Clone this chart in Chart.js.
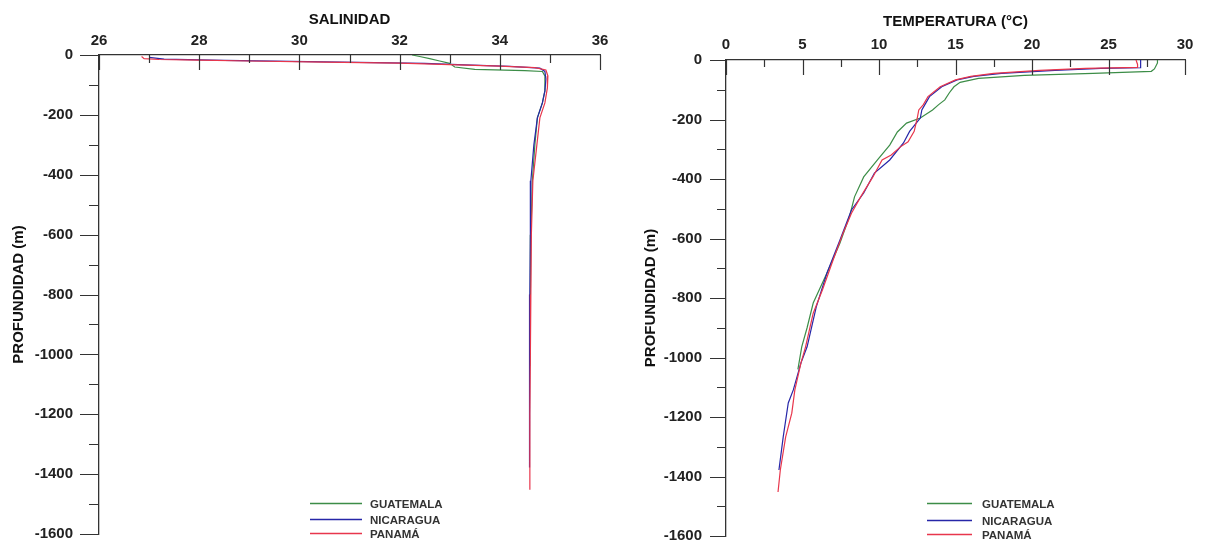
<!DOCTYPE html>
<html lang="es">
<head>
<meta charset="utf-8">
<title>Perfiles de salinidad y temperatura</title>
<script src="https://cdn.jsdelivr.net/npm/chart.js@4.4.1/dist/chart.umd.min.js"></script>
<style>
    html, body { margin: 0; padding: 0; background: #fff; }
    #wrap { position: relative; width: 1217px; height: 543px; overflow: hidden; }
    canvas { position: absolute; top: 0; }
    #salChart { left: 0; }
    #tempChart { left: 608px; }
</style>
</head>
<body>
<div id="wrap">
    <canvas id="salChart" width="608" height="543"></canvas>
    <canvas id="tempChart" width="609" height="543"></canvas>
</div>
<script>
// ============================
// Datos
// ============================
const countries = ['GUATEMALA', 'NICARAGUA', 'PANAMÁ'];
const lineColors = ['#3c8d47', '#2626a8', '#e8364c'];

// Salinidad
const salDepthGua = [0, -5, -12, -20, -28, -40, -48, -52, -55, -70, -120, -160, -210, -300, -420, -600, -800, -1040];
const salGua      = [32.25, 32.4, 32.6, 32.8, 33.0, 33.1, 33.5, 34.5, 34.85, 34.9, 34.9, 34.85, 34.75, 34.7, 34.65, 34.62, 34.61, 34.6];

const salDepthNic = [-8, -14, -18, -23, -28, -33, -38, -44, -55, -80, -120, -160, -210, -300, -420, -600, -800, -1000, -1200, -1378];
const salNic      = [27.0, 27.3, 28.5, 30.5, 32.5, 33.3, 34.2, 34.8, 34.9, 34.92, 34.9, 34.85, 34.75, 34.68, 34.62, 34.61, 34.6, 34.6, 34.59, 34.59];

const salDepthPan = [-5, -12, -15, -17, -20, -24, -27, -32, -37, -42, -50, -70, -110, -160, -210, -300, -420, -600, -800, -1000, -1200, -1452];
const salPan      = [26.85, 26.9, 27.2, 28.0, 29.0, 30.5, 32.0, 33.0, 34.0, 34.7, 34.92, 34.96, 34.95, 34.9, 34.8, 34.74, 34.66, 34.63, 34.62, 34.61, 34.6, 34.6];

// Temperatura
const tempDepthGua = [0, -10, -20, -30, -38, -45, -52, -62, -75, -90, -110, -134, -150, -168, -195, -212, -242, -286, -336, -393, -460, -521, -615, -716, -817, -900, -964, -1040];
const tempGua      = [28.2, 28.2, 28.1, 28.0, 27.8, 24.0, 19.5, 16.5, 15.3, 14.9, 14.6, 14.3, 13.9, 13.5, 12.7, 11.8, 11.2, 10.7, 9.9, 9.0, 8.4, 8.1, 7.45, 6.6, 5.7, 5.3, 4.95, 4.7];

const tempDepthNic = [0, -15, -26, -28, -35, -45, -55, -67, -90, -123, -150, -168, -195, -240, -279, -336, -380, -447, -504, -605, -716, -830, -964, -1018, -1109, -1153, -1267, -1378];
const tempNic      = [27.1, 27.1, 27.1, 24.5, 21.5, 18.0, 16.2, 15.1, 14.1, 13.3, 13.0, 12.8, 12.7, 12.0, 11.6, 10.7, 9.7, 9.0, 8.2, 7.45, 6.6, 5.9, 5.3, 4.9, 4.4, 4.07, 3.74, 3.46];

const tempDepthPan = [0, -15, -25, -28, -35, -45, -55, -67, -90, -123, -150, -168, -195, -240, -275, -292, -319, -336, -393, -460, -515, -582, -672, -773, -851, -964, -1018, -1109, -1187, -1267, -1378, -1452];
const tempPan      = [26.8, 26.9, 26.9, 23.5, 20.5, 17.5, 16.0, 15.0, 14.0, 13.2, 12.9, 12.6, 12.5, 12.3, 11.9, 11.4, 10.8, 10.2, 9.6, 8.8, 8.2, 7.65, 7.0, 6.3, 5.7, 5.2, 4.9, 4.5, 4.3, 3.9, 3.55, 3.4];

// ============================
// Plugins: marcas de eje y leyenda
// ============================
const isMajor = (v, step) => Math.abs(v / step - Math.round(v / step)) < 1e-6;

const axisTicks = {
    id: 'axisTicks',
    afterDraw(chart, args, o) {
        const { ctx, chartArea, scales: { x, y } } = chart;
        ctx.save();
        ctx.strokeStyle = o.color;
        ctx.lineWidth = o.width;
        ctx.beginPath();
        // eje X arriba, marcas hacia dentro
        for (let v = x.min; v <= x.max + 1e-9; v += o.xStep) {
            const px = Math.round(x.getPixelForValue(v)) + 0.5;
            const len = isMajor(v, o.xMajor) ? o.xLen[0] : o.xLen[1];
            ctx.moveTo(px, chartArea.top);
            ctx.lineTo(px, chartArea.top + len);
        }
        // eje Y a la izquierda, marcas hacia fuera
        for (let v = y.min; v <= y.max + 1e-9; v += o.yStep) {
            const py = Math.round(y.getPixelForValue(v)) + 0.5;
            const len = isMajor(v, o.yMajor) ? o.yLen[0] : o.yLen[1];
            ctx.moveTo(chartArea.left, py);
            ctx.lineTo(chartArea.left - len, py);
        }
        ctx.stroke();
        ctx.restore();
    }
};

const lineLegend = {
    id: 'lineLegend',
    afterDraw(chart, args, o) {
        const { ctx } = chart;
        ctx.save();
        ctx.font = o.font;
        ctx.textBaseline = 'middle';
        ctx.fillStyle = o.textColor;
        chart.data.datasets.forEach((ds, i) => {
            const yy = o.rows[i] + 0.5;
            ctx.strokeStyle = ds.borderColor;
            ctx.lineWidth = 1.3;
            ctx.beginPath();
            ctx.moveTo(o.x, yy);
            ctx.lineTo(o.x + o.len, yy);
            ctx.stroke();
            ctx.fillText(ds.label, o.x + o.len + o.gap, yy + 1);
        });
        ctx.restore();
    }
};

Chart.defaults.font.family = "'Liberation Sans', Arial, sans-serif";
Chart.defaults.color = '#222';

// ============================
// Construcción de un perfil
// ============================
function toPoints(values, depths) {
    return values.map((v, i) => ({ x: v, y: depths[i] }));
}

function buildProfile(canvasId, cfg) {
    const datasets = cfg.series.map((s, i) => ({
        label: countries[i],
        data: toPoints(s.values, s.depths),
        borderColor: lineColors[i],
        borderWidth: 1.2,
        pointRadius: 0,
        showLine: true,
        tension: 0,
        order: 3 - i
    }));

    return new Chart(document.getElementById(canvasId), {
        type: 'scatter',
        data: { datasets },
        options: {
            responsive: false,
            animation: false,
            devicePixelRatio: 1,
            layout: { padding: cfg.padding },
            plugins: {
                legend: { display: false },
                tooltip: { enabled: false },
                axisTicks: {
                    color: '#333', width: 1.2,
                    xStep: cfg.xStep / 2, xMajor: cfg.xStep, xLen: cfg.xLen,
                    yStep: 100, yMajor: 200, yLen: cfg.yLen
                },
                lineLegend: cfg.legend
            },
            scales: {
                x: {
                    type: 'linear',
                    position: 'top',
                    min: cfg.xMin,
                    max: cfg.xMax,
                    grid: { drawOnChartArea: false, drawTicks: false },
                    border: { display: true, color: '#333', width: 1.3 },
                    ticks: {
                        stepSize: cfg.xStep,
                        padding: cfg.xPad,
                        font: { size: 15, weight: 'bold' },
                        callback: v => String(v)
                    },
                    title: {
                        display: true,
                        text: cfg.xTitle,
                        color: '#111',
                        font: { size: 15, weight: 'bold' },
                        padding: { top: cfg.xTitlePad, bottom: 0 }
                    },
                    // el área del gráfico se fija a mano
                    afterFit: s => {
                        s.height = cfg.top;
                        s.paddingLeft = 0;
                        s.paddingRight = 0;
                    }
                },
                y: {
                    type: 'linear',
                    min: -1600,
                    max: 0,
                    grid: { drawOnChartArea: false, drawTicks: false },
                    border: { display: true, color: '#333', width: 1.3 },
                    ticks: {
                        stepSize: 200,
                        padding: cfg.yPad,
                        font: { size: 15, weight: 'bold' },
                        callback: v => String(v)
                    },
                    title: {
                        display: true,
                        text: 'PROFUNDIDAD (m)',
                        color: '#111',
                        font: { size: 15, weight: 'bold' },
                        padding: { top: cfg.yTitlePad, bottom: 0 }
                    },
                    afterFit: s => {
                        s.width = cfg.left;
                        s.paddingTop = 0;
                        s.paddingBottom = 0;
                    }
                }
            }
        },
        plugins: [axisTicks, lineLegend]
    });
}

// Salinidad
buildProfile('salChart', {
    series: [
        { values: salGua, depths: salDepthGua },
        { values: salNic, depths: salDepthNic },
        { values: salPan, depths: salDepthPan }
    ],
    xMin: 26, xMax: 36, xStep: 2,
    xTitle: 'SALINIDAD',
    top: 55, left: 99,
    padding: { left: 0, top: 0, right: 8, bottom: 9 },
    xPad: 5, yPad: 26, xTitlePad: 11, yTitlePad: 10,
    xLen: [15, 8], yLen: [19, 10],
    legend: { x: 310, len: 52, gap: 8, rows: [503, 519, 533], font: 'bold 11.5px "Liberation Sans", Arial, sans-serif', textColor: '#333' }
});

// Temperatura
buildProfile('tempChart', {
    series: [
        { values: tempGua, depths: tempDepthGua },
        { values: tempNic, depths: tempDepthNic },
        { values: tempPan, depths: tempDepthPan }
    ],
    xMin: 0, xMax: 30, xStep: 5,
    xTitle: 'TEMPERATURA (°C)',
    top: 60, left: 118,
    padding: { left: 0, top: 0, right: 32, bottom: 7 },
    xPad: 6, yPad: 24, xTitlePad: 13, yTitlePad: 34,
    xLen: [15, 7], yLen: [16, 9],
    legend: { x: 319, len: 45, gap: 10, rows: [503, 520, 534], font: 'bold 11.5px "Liberation Sans", Arial, sans-serif', textColor: '#333' }
});
</script>
</body>
</html>
